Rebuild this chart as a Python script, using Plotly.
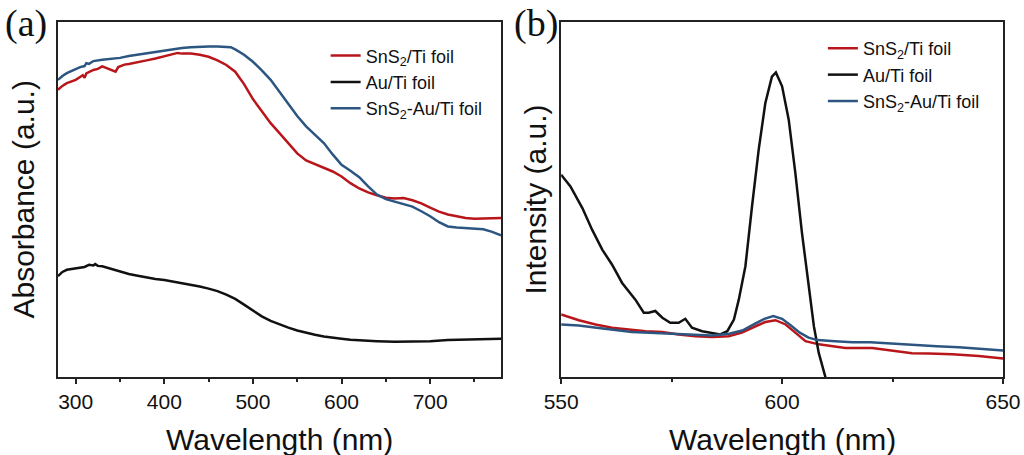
import plotly.graph_objects as go

# ---------------- Panel (a): absorbance ----------------
wl_a_red = [280, 285, 290, 295, 300, 305, 308, 310, 312, 320, 325, 330, 335, 340, 345, 348, 355, 360, 370, 380,
            390, 400, 410, 415, 420, 430, 440, 450, 460, 470, 480, 490, 500, 510, 520, 530, 540, 550, 560, 570,
            580, 590, 600, 610, 620, 630, 640, 650, 660, 670, 680, 690, 700, 710, 720, 730, 740, 750, 760, 770, 780]
abs_red = [80.9, 82.0, 82.8, 83.2, 83.7, 84.5, 85.0, 84.3, 85.5, 86.5, 86.8, 87.5, 87.0, 86.5, 86.0, 87.3, 88.0, 88.2, 88.6, 89.2,
           89.7, 90.3, 90.8, 91.3, 91.1, 91.1, 90.8, 90.2, 89.2, 87.9, 86.0, 82.5, 78.3, 74.8, 71.5, 68.7, 65.9, 63.0, 61.0, 59.9,
           58.9, 57.9, 56.5, 54.6, 53.1, 52.0, 51.2, 50.5, 50.3, 50.4, 49.8, 48.9, 47.7, 46.6, 45.8, 45.2, 44.8, 44.6, 44.6, 44.7, 44.8]

wl_a_blue = [280, 285, 290, 295, 300, 305, 310, 312, 315, 320, 330, 340, 350, 360, 370, 380, 390, 400, 410, 420,
             430, 440, 450, 460, 470, 475, 480, 490, 500, 510, 520, 530, 540, 550, 560, 570, 580, 590, 600, 610,
             620, 630, 640, 650, 660, 670, 680, 690, 700, 710, 720, 730, 740, 750, 760, 770, 780]
abs_blue = [83.7, 84.8, 85.6, 86.2, 86.8, 87.3, 87.6, 88.4, 88.2, 89.0, 89.4, 89.6, 89.9, 90.4, 90.8, 91.2, 91.7, 92.0, 92.5, 92.7,
            92.9, 93.1, 93.1, 93.1, 93.0, 92.9, 92.3, 90.8, 88.8, 86.4, 83.7, 80.4, 77.1, 73.5, 70.6, 68.3, 65.9, 62.7, 59.8, 58.1,
            56.3, 53.7, 51.4, 50.1, 49.4, 48.9, 48.0, 46.7, 45.3, 43.6, 42.4, 42.1, 41.9, 41.8, 41.6, 40.9, 39.9]

wl_a_black = [280, 285, 290, 300, 310, 315, 320, 322, 325, 330, 340, 350, 360, 370, 380, 390, 400, 410, 420, 430,
              440, 450, 460, 470, 480, 490, 500, 510, 520, 530, 540, 550, 560, 570, 580, 590, 600, 610, 620, 640,
              660, 680, 700, 720, 740, 760, 780]
abs_black = [28.4, 29.6, 30.2, 30.6, 31.0, 31.6, 31.4, 31.8, 31.3, 31.2, 30.5, 29.6, 29.0, 28.5, 28.0, 27.6, 27.3, 26.9, 26.4, 26.0,
             25.5, 24.9, 24.2, 23.2, 22.0, 20.4, 18.8, 17.1, 15.8, 14.8, 13.9, 13.1, 12.4, 11.9, 11.4, 11.0, 10.8, 10.5, 10.3, 10.1,
             9.9, 9.9, 10.1, 10.4, 10.5, 10.6, 10.8]

# ---------------- Panel (b): PL intensity ----------------
wl_b_red = [550, 554, 557.8, 561.5, 565.3, 569.1, 572.9, 576.6, 580.4, 584.2, 587.9, 590.9, 594, 596.2, 598.5,
            600.8, 603, 605.3, 608.3, 614.3, 620.4, 625.6, 629.4, 633.2, 638.5, 644.5, 650]
int_red = [17.6, 16.0, 14.8, 13.9, 13.4, 12.9, 12.7, 12.0, 11.5, 11.3, 11.5, 12.5, 14.3, 15.5, 16.0,
           14.8, 12.5, 10.1, 9.2, 8.2, 8.2, 7.3, 6.7, 6.6, 6.4, 5.9, 5.2]

wl_b_black = [550, 552.1, 554.8, 557, 559.3, 561.5, 563.8, 566.8, 568.7, 569.8, 571.3, 572.9, 574.7, 576.6, 578.1,
              579.6, 581.9, 584.2, 586, 587.6, 589.1, 590.2, 591.7, 593.2, 594.7, 596.2, 597.7, 598.6, 600, 601.5,
              603, 604.5, 606, 607.2, 608.3, 609.8, 611]
int_black = [57.0, 53.7, 47.6, 41.5, 35.9, 31.7, 26.5, 21.8, 18.1, 18.1, 18.6, 16.7, 15.3, 15.3, 16.4,
             13.9, 12.9, 12.5, 12.0, 12.9, 16.2, 21.8, 31.2, 48.1, 64.0, 77.1, 84.6, 85.8, 81.9, 72.5,
             57.5, 40.6, 26.5, 14.3, 6.8, 0.0, -8.0]

wl_b_blue = [550, 554, 558, 562, 566, 570, 575, 580, 584, 588, 591, 594, 596, 598, 600, 602, 604, 606, 608,
             612, 616, 620, 625, 630, 635, 640, 645, 650]
int_blue = [14.8, 14.5, 13.9, 13.2, 12.7, 12.5, 12.2, 11.8, 11.7, 12.2, 13.1, 15.1, 16.4, 17.2, 16.4, 14.5, 12.5, 11.1, 10.4,
            10.1, 9.8, 9.8, 9.4, 8.9, 8.7, 8.4, 8.0, 7.5]

names = ["SnS<sub>2</sub>/Ti foil", "Au/Ti foil", "SnS<sub>2</sub>-Au/Ti foil"]
RED = "#B8161A"
BLACK = "#111111"
BLUE = "#2C5681"

a_x_ticks = [300, 400, 500, 600, 700]
b_x_ticks = [550, 600, 650]

FONT = "Arial, Liberation Sans, sans-serif"
SERIF = "Times New Roman, Liberation Serif, serif"

fig = go.Figure()

for xs, ys, nm, col in [(wl_a_red, abs_red, names[0], RED),
                        (wl_a_black, abs_black, names[1], BLACK),
                        (wl_a_blue, abs_blue, names[2], BLUE)]:
    fig.add_trace(go.Scatter(x=xs, y=ys, mode="lines", name=nm, line=dict(color=col, width=2.5),
                             xaxis="x", yaxis="y", legend="legend"))

for xs, ys, nm, col in [(wl_b_red, int_red, names[0], RED),
                        (wl_b_black, int_black, names[1], BLACK),
                        (wl_b_blue, int_blue, names[2], BLUE)]:
    fig.add_trace(go.Scatter(x=xs, y=ys, mode="lines", name=nm, line=dict(color=col, width=2.5),
                             xaxis="x2", yaxis="y2", legend="legend2"))

axis_common = dict(showline=True, linecolor="#222222", linewidth=1.5, mirror=True,
                   showgrid=False, zeroline=False, automargin=False)

fig.update_layout(
    width=1024, height=455,
    margin=dict(l=0, r=0, t=0, b=0, autoexpand=False),
    paper_bgcolor="white", plot_bgcolor="white",
    font=dict(family=FONT, color="#111111"),
    xaxis=dict(domain=[0.0566, 0.4893], range=[280, 780], tickvals=a_x_ticks,
               ticks="outside", ticklen=5, tickwidth=1.5, tickcolor="#222222",
               minor=dict(ticks="outside", dtick=50, tick0=300, ticklen=3, tickwidth=1.5, tickcolor="#222222"),
               tickfont=dict(size=21, family=FONT), anchor="y", **axis_common),
    yaxis=dict(domain=[0.1714, 0.9516], range=[0, 100], showticklabels=False, ticks="",
               anchor="x", **axis_common),
    xaxis2=dict(domain=[0.548, 0.9795], range=[550, 650], tickvals=b_x_ticks,
                ticks="outside", ticklen=5, tickwidth=1.5, tickcolor="#222222",
                minor=dict(ticks="outside", dtick=25, tick0=550, ticklen=3, tickwidth=1.5, tickcolor="#222222"),
                tickfont=dict(size=21, family=FONT), anchor="y2", **axis_common),
    yaxis2=dict(domain=[0.1714, 0.9516], range=[0, 100], showticklabels=False, ticks="",
                anchor="x2", **axis_common),
    legend=dict(x=0.318, y=0.918, xanchor="left", yanchor="top", bgcolor="rgba(0,0,0,0)",
                borderwidth=0, font=dict(size=18, family=FONT), tracegroupgap=0, itemwidth=30),
    legend2=dict(x=0.8036, y=0.934, xanchor="left", yanchor="top", bgcolor="rgba(0,0,0,0)",
                 borderwidth=0, font=dict(size=18, family=FONT), tracegroupgap=0, itemwidth=30),
    annotations=[
        dict(text="(a)", x=0.003, y=1.0, xref="paper", yref="paper", xanchor="left", yanchor="top",
             showarrow=False, font=dict(family=SERIF, size=38, color="#111111")),
        dict(text="(b)", x=0.5, y=1.0, xref="paper", yref="paper", xanchor="left", yanchor="top",
             showarrow=False, font=dict(family=SERIF, size=38, color="#111111")),
        dict(text="Wavelength (nm)", x=0.273, y=0.033, xref="paper", yref="paper", xanchor="center",
             yanchor="middle", showarrow=False, font=dict(family=FONT, size=30, color="#111111")),
        dict(text="Wavelength (nm)", x=0.7638, y=0.033, xref="paper", yref="paper", xanchor="center",
             yanchor="middle", showarrow=False, font=dict(family=FONT, size=30, color="#111111")),
        dict(text="Absorbance (a.u.)", x=0.0225, y=0.5615, xref="paper", yref="paper", xanchor="center",
             yanchor="middle", textangle=-90, showarrow=False, font=dict(family=FONT, size=30, color="#111111")),
        dict(text="Intensity (a.u.)", x=0.5225, y=0.5615, xref="paper", yref="paper", xanchor="center",
             yanchor="middle", textangle=-90, showarrow=False, font=dict(family=FONT, size=30, color="#111111")),
    ],
)

fig.write_html("out.html", config={"displayModeBar": False},
               post_script="document.body.style.margin='0px';document.body.style.overflow='hidden';")
